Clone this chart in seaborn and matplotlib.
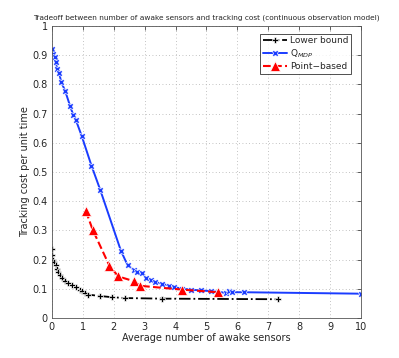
import matplotlib
matplotlib.use("Agg")
import matplotlib.pyplot as plt
import seaborn as sns
import pandas as pd

lb_x = [0.0, 0.01, 0.05, 0.08, 0.12, 0.15, 0.2, 0.26, 0.34, 0.42, 0.53, 0.64, 0.77, 0.91, 0.98, 1.07, 1.16, 1.56, 1.94, 2.37, 3.56, 7.31]
lb_y = [0.235, 0.214, 0.2, 0.191, 0.18, 0.168, 0.157, 0.146, 0.138, 0.128, 0.119, 0.114, 0.105, 0.097, 0.091, 0.085, 0.08, 0.075, 0.071, 0.068, 0.066, 0.064]

q_x = [0.0, 0.04, 0.1, 0.13, 0.17, 0.24, 0.3, 0.43, 0.59, 0.69, 0.77, 0.97, 1.28, 1.56, 2.23, 2.45, 2.65, 2.76, 2.9, 3.03, 3.19, 3.35, 3.56, 3.78, 3.94, 4.22, 4.49, 4.82, 5.14, 5.62, 5.72, 5.83, 6.2, 10.0]
q_y = [0.92, 0.906, 0.893, 0.878, 0.852, 0.838, 0.809, 0.778, 0.726, 0.696, 0.68, 0.622, 0.522, 0.44, 0.231, 0.18, 0.165, 0.157, 0.155, 0.138, 0.131, 0.123, 0.117, 0.111, 0.106, 0.1, 0.097, 0.094, 0.092, 0.086, 0.091, 0.088, 0.088, 0.083]

pb_x = [1.1, 1.32, 1.86, 2.15, 2.65, 2.86, 4.2, 5.36]
pb_y = [0.366, 0.302, 0.179, 0.142, 0.126, 0.11, 0.097, 0.088]

x_ticks = list(range(0, 11))
y_ticks = [0, 0.1, 0.2, 0.3, 0.4, 0.5, 0.6, 0.7, 0.8, 0.9, 1]
y_labels = ["0", "0.1", "0.2", "0.3", "0.4", "0.5", "0.6", "0.7", "0.8", "0.9", "1"]

sns.set_style("white")
plt.rcParams['font.family'] = ['DejaVu Sans']

fig = plt.figure(figsize=(3.99, 3.58), dpi=100)
ax = fig.add_axes([0.130, 0.112, 0.775, 0.815])

df_lb = pd.DataFrame({"x": lb_x, "y": lb_y})
df_q = pd.DataFrame({"x": q_x, "y": q_y})
df_pb = pd.DataFrame({"x": pb_x, "y": pb_y})

sns.lineplot(data=df_lb, x="x", y="y", sort=False, ax=ax, color="black", lw=1.3,
             linestyle="-.", marker="P", markersize=4.5, markeredgewidth=0.5,
             label="Lower bound")
sns.lineplot(data=df_q, x="x", y="y", sort=False, ax=ax, color="#1a3cff", lw=1.4,
             linestyle="-", marker="X", markersize=4.5, markeredgewidth=0.5,
             label="Q$_{MDP}$")
sns.lineplot(data=df_pb, x="x", y="y", sort=False, ax=ax, color="red", lw=1.5,
             linestyle="--", marker="^", markersize=7, markeredgewidth=0.5,
             label="Point\u2212based", dashes=(4, 3))

ax.set_xlim(0, 10)
ax.set_ylim(0, 1)
ax.set_xticks(x_ticks)
ax.set_yticks(y_ticks)
ax.set_yticklabels(y_labels)
ax.tick_params(direction="in", labelsize=7, length=3, width=0.5, top=True, right=True, pad=3)
ax.grid(True, linestyle=(0, (1, 3)), color="#b0b0b0", lw=0.6)
for s in ax.spines.values():
    s.set_color("#555555")
    s.set_linewidth(0.6)

ax.set_xlabel("Average number of awake sensors", fontsize=7, labelpad=1)
ax.set_ylabel("Tracking cost per unit time", fontsize=7, labelpad=2)
ax.set_title("Tradeoff between number of awake sensors and tracking cost (continuous observation model)",
             fontsize=5.3, pad=5)

leg = ax.legend(loc="upper right", fontsize=6.5, frameon=True, fancybox=False,
                edgecolor="black", handlelength=2.6, borderpad=0.3, labelspacing=0.25,
                handletextpad=0.4, bbox_to_anchor=(0.983, 0.99))
leg.get_frame().set_linewidth(0.6)

fig.savefig("out.png", dpi=100)
